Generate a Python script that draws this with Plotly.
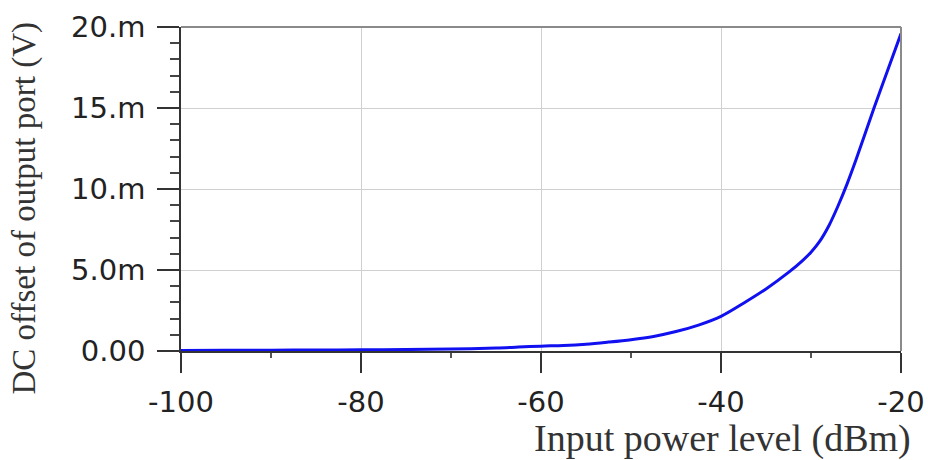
import plotly.graph_objects as go

# Data (input power in dBm, DC offset in volts)
input_power_dbm = [-100, -95, -90, -85, -80, -75, -70, -65, -62.5, -60, -57.5, -55,
                   -52.5, -50, -47.5, -45, -42.5, -40, -37.5, -35, -32.5, -31,
                   -30, -29, -28, -27, -26, -25, -23, -21.5, -20]
dc_offset_mv = [0.03, 0.04, 0.05, 0.06, 0.07, 0.09, 0.12, 0.18, 0.24, 0.30, 0.34, 0.42,
                0.55, 0.70, 0.90, 1.20, 1.60, 2.14, 2.95, 3.83, 4.85, 5.55,
                6.10, 6.80, 7.75, 8.95, 10.3, 11.8, 15.0, 17.3, 19.6]
dc_offset_v = [v / 1000 for v in dc_offset_mv]

x_tickvals = [-100, -80, -60, -40, -20]
x_ticktext = ["-100", "-80", "-60", "-40", "-20"]
y_tickvals = [0, 0.005, 0.010, 0.015, 0.020]
y_ticktext = ["0.00", "5.0m", "10.m", "15.m", "20.m"]

x_title = "Input power level (dBm)"
y_title = "DC offset of output port (V)"

fig = go.Figure()
fig.add_trace(go.Scatter(
    x=input_power_dbm, y=dc_offset_v, mode="lines",
    line=dict(color="#1010f0", width=3, shape="spline", smoothing=0.9),
    showlegend=False, cliponaxis=False,
))

tick_font = dict(family="DejaVu Sans", size=29, color="#222222")

fig.update_layout(
    width=928, height=460,
    margin=dict(l=181, r=27, t=27, b=109),
    paper_bgcolor="white", plot_bgcolor="white",
    xaxis=dict(
        range=[-100, -20], tickvals=x_tickvals, ticktext=x_ticktext,
        ticks="outside", ticklen=20, tickwidth=1.5, tickcolor="#333333",
        showline=True, linecolor="#333333", linewidth=1.5,
        showgrid=True, gridcolor="#d0d0d0", gridwidth=1,
        zeroline=False, tickfont=tick_font, ticklabelstandoff=4,
        automargin=False,
        minor=dict(dtick=10, ticks="outside", ticklen=5, tickcolor="#555555",
                   showgrid=False),
    ),
    yaxis=dict(
        range=[0, 0.020], tickvals=y_tickvals, ticktext=y_ticktext,
        ticks="outside", ticklen=22, tickwidth=1.5, tickcolor="#333333",
        showline=True, linecolor="#333333", linewidth=1.5,
        showgrid=True, gridcolor="#d0d0d0", gridwidth=1,
        zeroline=False, tickfont=tick_font, ticklabelstandoff=6,
        automargin=False,
        minor=dict(dtick=0.001, ticks="outside", ticklen=9, tickcolor="#444444",
                   showgrid=False),
    ),
    shapes=[
        dict(type="line", xref="paper", yref="paper", x0=0, x1=1, y0=1, y1=1,
             line=dict(color="#8a8a8a", width=2)),
        dict(type="line", xref="paper", yref="paper", x0=1, x1=1, y0=0, y1=1,
             line=dict(color="#8a8a8a", width=2)),
    ],
    annotations=[
        dict(text=x_title, xref="paper", yref="paper", x=1.017, y=-0.27,
             xanchor="right", yanchor="middle", showarrow=False,
             font=dict(family="Liberation Serif", size=38, color="#333333")),
        dict(text=y_title, xref="paper", yref="paper", x=-0.218, y=0.44,
             xanchor="center", yanchor="middle", textangle=-90, showarrow=False,
             font=dict(family="Liberation Serif", size=33, color="#333333")),
    ],
)

# Remove the default page margin so the figure sits at the window's top-left.
fig.write_html(
    "out.html",
    config={"displayModeBar": False},
    post_script="document.body.style.margin='0';document.body.style.overflow='hidden';",
)
